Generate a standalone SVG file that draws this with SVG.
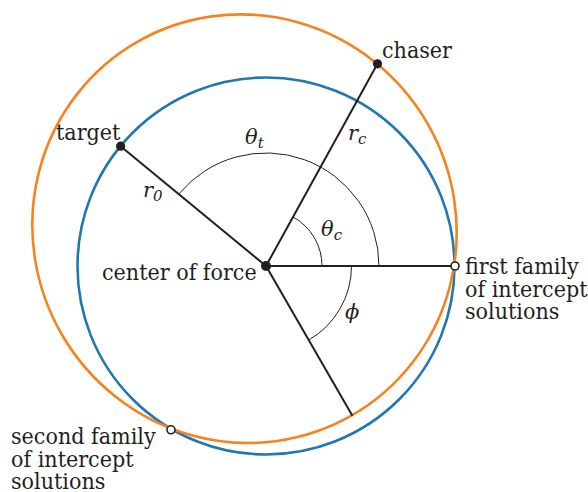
<svg xmlns="http://www.w3.org/2000/svg" width="588" height="492" viewBox="0 0 588 492">
<style>
.orbit{fill:none;stroke-width:2.6}
.blue{stroke:#1f77b4}
.orange{stroke:#f7821e}
.ray{stroke:#231f20;stroke-width:2;fill:none}
.arc{stroke:#231f20;stroke-width:1;fill:none}
text{fill:#231f20}
.lbl{font-family:'DejaVu Serif Condensed','DejaVu Serif',serif;font-stretch:condensed;font-size:23px}
.math{font-family:'DejaVu Serif','Liberation Serif',serif;font-style:italic;font-size:21px}
.sub{font-size:15px}
.dot{fill:#231f20}
.open{fill:#fff;stroke:#231f20;stroke-width:1.6}
</style>
<rect width="588" height="492" fill="#fff"/>
<g id="orbits">
<circle id="target-orbit" class="orbit blue" cx="266" cy="266" r="188.5"/>
<ellipse id="chaser-orbit" class="orbit orange" cx="244.5" cy="228.7" rx="215.4" ry="211.1" transform="rotate(60 244.5 228.7)"/>
</g>
<g id="connectors">
<line class="ray" x1="266" y1="266" x2="120.6" y2="146.2"/>
<line class="ray" x1="266" y1="266" x2="377.5" y2="63.8"/>
<line class="ray" x1="266" y1="266" x2="455" y2="266"/>
<line class="ray" x1="266" y1="266" x2="352.4" y2="415.8"/>
<path class="arc" d="M379,266 A113,113 0 0 0 178.8,194.1"/>
<path class="arc" d="M322,266 A56,56 0 0 0 293.1,217"/>
<path class="arc" d="M351.5,266 A85.5,85.5 0 0 1 308.75,340"/>
</g>
<g id="center">
<circle class="dot" cx="266" cy="266" r="5"/>
<text class="lbl" x="102" y="280">center of force</text>
</g>
<g id="target">
<circle class="dot" cx="120.6" cy="146.2" r="4.6"/>
<text class="lbl" x="56" y="140">target</text>
</g>
<g id="chaser">
<circle class="dot" cx="377.5" cy="63.8" r="4.6"/>
<text class="lbl" x="382" y="58">chaser</text>
</g>
<g id="first-family">
<circle class="open" cx="455" cy="266" r="4"/>
<text class="lbl" x="465" y="274">first family</text>
<text class="lbl" x="465" y="296.5">of intercept</text>
<text class="lbl" x="465" y="318.5">solutions</text>
</g>
<g id="second-family">
<circle class="open" cx="171" cy="429.8" r="4"/>
<text class="lbl" x="11" y="444">second family</text>
<text class="lbl" x="11" y="466.5">of intercept</text>
<text class="lbl" x="11" y="488.5">solutions</text>
</g>
<g id="labels">
<text class="math" x="245" y="143.5">θ<tspan class="sub" dy="4">t</tspan></text>
<text class="math" x="143" y="196.7">r<tspan class="sub" dy="4">0</tspan></text>
<text class="math" x="348" y="140">r<tspan class="sub" dy="3.5">c</tspan></text>
<text class="math" x="321" y="235.5">θ<tspan class="sub" dy="4">c</tspan></text>
<text class="math" x="345" y="319">ϕ</text>
</g>
</svg>
